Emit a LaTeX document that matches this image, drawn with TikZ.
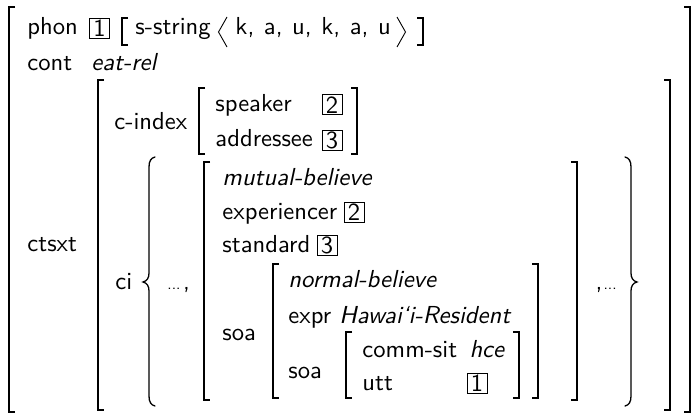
\documentclass[tikz,border=0pt]{standalone}
\usepackage{fontspec}
\newcommand{\tagnum}[1]{\scalebox{2.46}{\fontsize{10}{10}\selectfont\sffamily #1}}
\newcommand{\smalldots}{{\fontsize{6}{7}\selectfont...}}
\begin{document}
\begin{tikzpicture}[x=1pt,y=-1pt,
  lbl/.style={anchor=base west,inner sep=0pt,font=\fontsize{10}{12}\selectfont\sffamily,scale=2.46},
  itl/.style={anchor=base west,inner sep=0pt,font=\fontsize{10}{12}\selectfont\sffamily\itshape,scale=2.46},
  tagbox/.style={draw,line width=1pt,minimum width=20pt,minimum height=20pt,inner sep=0pt},
  brk/.style={line width=1.3pt,line cap=butt,line join=miter},
  ang/.style={line width=0.9pt,line join=miter}]
\useasboundingbox (0,0) rectangle (695,414);
% bracket helpers
\def\lb#1#2#3{\draw[brk] (#1+6,#2) -- (#1,#2) -- (#1,#3) -- (#1+6,#3);}
\def\rb#1#2#3{\draw[brk] (#1-6,#2) -- (#1,#2) -- (#1,#3) -- (#1-6,#3);}
% outer
\lb{9}{7}{412}
\rb{690}{7}{412}
% phon row
\node[lbl] (phon) at (27,35) {phon};
\node[tagbox] (t1a) at (99.5,28.5) {\tagnum{1}};
\lb{122}{18}{45}
\node[lbl] (sstr) at (135,35) {s-string};
\draw[ang] (227,17) -- (218.5,32) -- (227,47);
\node[lbl] (kau) at (235,35) {k,\hspace{0.39em}a,\hspace{0.39em}u,\hspace{0.39em}k,\hspace{0.39em}a,\hspace{0.39em}u};
\draw[ang] (397,17) -- (405.5,32) -- (397,47);
\rb{423}{18}{45}
% cont
\node[lbl] (cont) at (27,71) {cont};
\node[itl] (eat) at (91,71) {eat-rel};
% ctsxt
\node[lbl] (ctsxt) at (27,251) {ctsxt};
\lb{98}{80}{410}
\rb{670}{80}{410}
% c-index
\node[lbl] (cidx) at (114,130) {c-index};
\lb{199}{88}{154}
\node[lbl] (spk) at (215,112) {speaker};
\node[tagbox] (t2a) at (332,105) {\tagnum{2}};
\node[lbl] (adr) at (215,147) {addressee};
\node[tagbox] (t3a) at (332,140.5) {\tagnum{3}};
\rb{357}{88}{154}
% ci
\node[lbl] (ci) at (115,289) {ci};
\draw[brk,line cap=round] (155,157) .. controls (151,158) and (149,161) .. (149,167) -- (149,273)
  .. controls (149,278) and (147,281) .. (143,282) .. controls (147,283) and (149,286) .. (149,291)
  -- (149,396) .. controls (149,402) and (151,405) .. (155,406);
\node[lbl] (dots1) at (167,289) {\smalldots\hspace{0.1em},};
\lb{204}{162}{400}
\node[itl] (mb) at (222,185) {mutual-believe};
\node[lbl] (exper) at (222,219) {experiencer};
\node[tagbox] (t2b) at (354,212.5) {\tagnum{2}};
\node[lbl] (stand) at (222,252) {standard};
\node[tagbox] (t3b) at (327,245.5) {\tagnum{3}};
\node[lbl] (soa1) at (222,340) {soa};
\lb{273}{264}{398}
\node[itl] (nb) at (288,287) {normal-believe};
\node[lbl] (expr) at (288,323) {expr};
\node[itl] (haw) at (339,323) {Hawai‘i-Resident};
\node[lbl] (soa2) at (288,378) {soa};
\lb{346}{332}{398}
\node[lbl] (comm) at (362,357) {comm-sit};
\node[itl] (hce) at (469,357) {hce};
\node[lbl] (utt) at (362,390) {utt};
\node[tagbox] (t1b) at (477,383) {\tagnum{1}};
\rb{519}{332}{398}
\rb{538}{264}{398}
\rb{577}{162}{400}
\node[lbl] (dots2) at (595,289) {,\hspace{0.05em}\smalldots};
\draw[brk,line cap=round] (625,157) .. controls (629,158) and (631,161) .. (631,167) -- (631,273)
  .. controls (631,278) and (633,281) .. (637,282) .. controls (633,283) and (631,286) .. (631,291)
  -- (631,396) .. controls (631,402) and (629,405) .. (625,406);
\end{tikzpicture}
\end{document}
